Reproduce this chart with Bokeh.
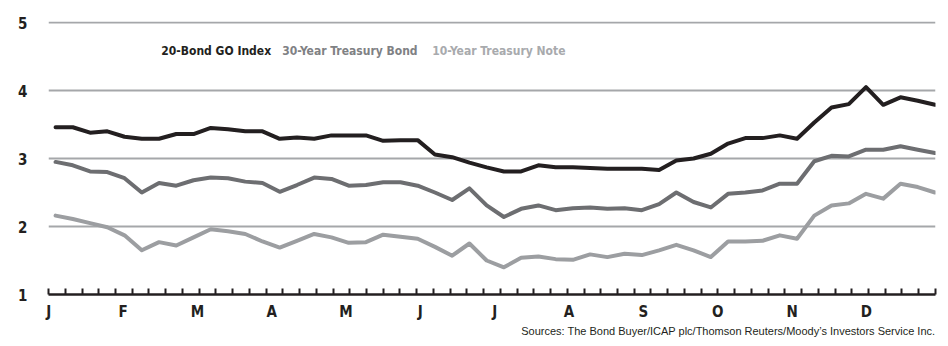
from bokeh.plotting import figure
from bokeh.models import FixedTicker, CustomJSTickFormatter, Label, Range1d, Title
from bokeh.embed import file_html
from bokeh.resources import INLINE

# Weekly yields (%), one value per week of the year
go_index = [3.46, 3.46, 3.38, 3.40, 3.32, 3.29, 3.29, 3.36, 3.36, 3.45, 3.43,
            3.40, 3.40, 3.29, 3.31, 3.29, 3.34, 3.34, 3.34, 3.26, 3.27,
            3.27, 3.06, 3.02, 2.94, 2.87, 2.81, 2.81, 2.90, 2.87, 2.87, 2.86,
            2.85, 2.85, 2.85, 2.83, 2.97, 3.00, 3.07, 3.22, 3.30, 3.30,
            3.34, 3.29, 3.53, 3.75, 3.80, 4.05, 3.79, 3.90, 3.85, 3.79]
treasury_30 = [2.95, 2.90, 2.81, 2.80, 2.71, 2.50, 2.64, 2.60, 2.68, 2.72, 2.71,
               2.66, 2.64, 2.51, 2.61, 2.72, 2.70, 2.60, 2.61, 2.65, 2.65,
               2.60, 2.50, 2.39, 2.56, 2.31, 2.14, 2.26, 2.31, 2.24, 2.27, 2.28,
               2.26, 2.27, 2.24, 2.33, 2.50, 2.36, 2.28, 2.48, 2.50, 2.53,
               2.63, 2.63, 2.96, 3.04, 3.03, 3.13, 3.13, 3.18, 3.13, 3.08]
treasury_10 = [2.16, 2.11, 2.05, 1.99, 1.87, 1.65, 1.77, 1.72, 1.84, 1.96, 1.93,
               1.89, 1.78, 1.69, 1.79, 1.89, 1.84, 1.76, 1.77, 1.88, 1.85,
               1.82, 1.70, 1.57, 1.75, 1.50, 1.40, 1.54, 1.56, 1.52, 1.51, 1.59,
               1.55, 1.60, 1.58, 1.65, 1.73, 1.65, 1.55, 1.78, 1.78, 1.79,
               1.87, 1.82, 2.16, 2.31, 2.34, 2.48, 2.41, 2.63, 2.58, 2.50]
weeks = list(range(len(go_index)))

series_names = ["20-Bond GO Index", "30-Year Treasury Bond", "10-Year Treasury Note"]
months = ["J", "F", "M", "A", "M", "J", "J", "A", "S", "O", "N", "D"]
y_ticks = [1, 2, 3, 4, 5]
source_note = "Sources: The Bond Buyer/ICAP plc/Thomson Reuters/Moody\u2019s Investors Service Inc."

COND = "DejaVu Sans Condensed"
INK = "#231f20"
C_GO, C_30, C_10 = INK, "#6d6e71", "#9c9ea1"

X0, X1 = -0.41, 51.03
month_start, month_step = -0.40, 4.311
month_pos = [month_start + i * month_step for i in range(len(months))]
n_ticks = 54
tick_step = (51.025 - (-0.405)) / (n_ticks - 1)
week_ticks = [-0.405 + k * tick_step for k in range(n_ticks)]

p = figure(width=948, height=346, x_range=Range1d(X0, X1), y_range=Range1d(1, 5.015),
           output_backend="svg", toolbar_location=None,
           min_border_left=48, min_border_right=13, min_border_top=21, min_border_bottom=52)
p.outline_line_color = None
p.background_fill_color = "white"

p.xgrid.grid_line_color = None
p.ygrid.ticker = FixedTicker(ticks=y_ticks[1:])
p.ygrid.grid_line_color = "#a5a7aa"
p.ygrid.grid_line_width = 2

# y axis: bold numbers only
p.yaxis.ticker = FixedTicker(ticks=y_ticks)
p.yaxis.axis_line_color = None
p.yaxis.major_tick_line_color = None
p.yaxis.minor_tick_line_color = None
p.yaxis.major_label_standoff = 15
p.yaxis.major_label_text_font = COND
p.yaxis.major_label_text_font_style = "bold"
p.yaxis.major_label_text_font_size = "15px"
p.yaxis.major_label_text_color = INK

# x axis: month initials, weekly ticks pointing inward
p.xaxis.ticker = FixedTicker(ticks=month_pos, minor_ticks=week_ticks)
p.xaxis.formatter = CustomJSTickFormatter(
    args=dict(labels=months, start=month_start, step=month_step),
    code="return labels[Math.round((tick - start) / step)];")
p.xaxis.axis_line_color = INK
p.xaxis.axis_line_width = 2.5
p.xaxis.major_tick_line_color = None
p.xaxis.minor_tick_in = 6
p.xaxis.minor_tick_out = 0
p.xaxis.minor_tick_line_width = 2
p.xaxis.minor_tick_line_color = INK
p.xaxis.major_label_standoff = 2
p.xaxis.major_label_text_font = COND
p.xaxis.major_label_text_font_style = "bold"
p.xaxis.major_label_text_font_size = "15px"
p.xaxis.major_label_text_color = INK

for ys, col in [(treasury_10, C_10), (treasury_30, C_30), (go_index, C_GO)]:
    p.line(weeks, ys, line_width=4, line_color=col, line_join="round", line_cap="round")

# colour-coded key along the top
for name, col, lx in zip(series_names, [INK, "#7f8184", "#a8aaad"], [6.13, 13.14, 21.84]):
    p.add_layout(Label(x=lx, y=4.588, text=name, text_font=COND, text_font_style="bold",
                       text_font_size="12px", text_color=col,
                       text_align="left", text_baseline="middle"))

p.add_layout(Title(text=source_note, align="right", text_font="Liberation Sans",
                   text_font_style="normal", text_font_size="11px", text_color=INK,
                   standoff=-2, offset=0), "below")

open("out.html", "w").write(file_html(p, INLINE))
